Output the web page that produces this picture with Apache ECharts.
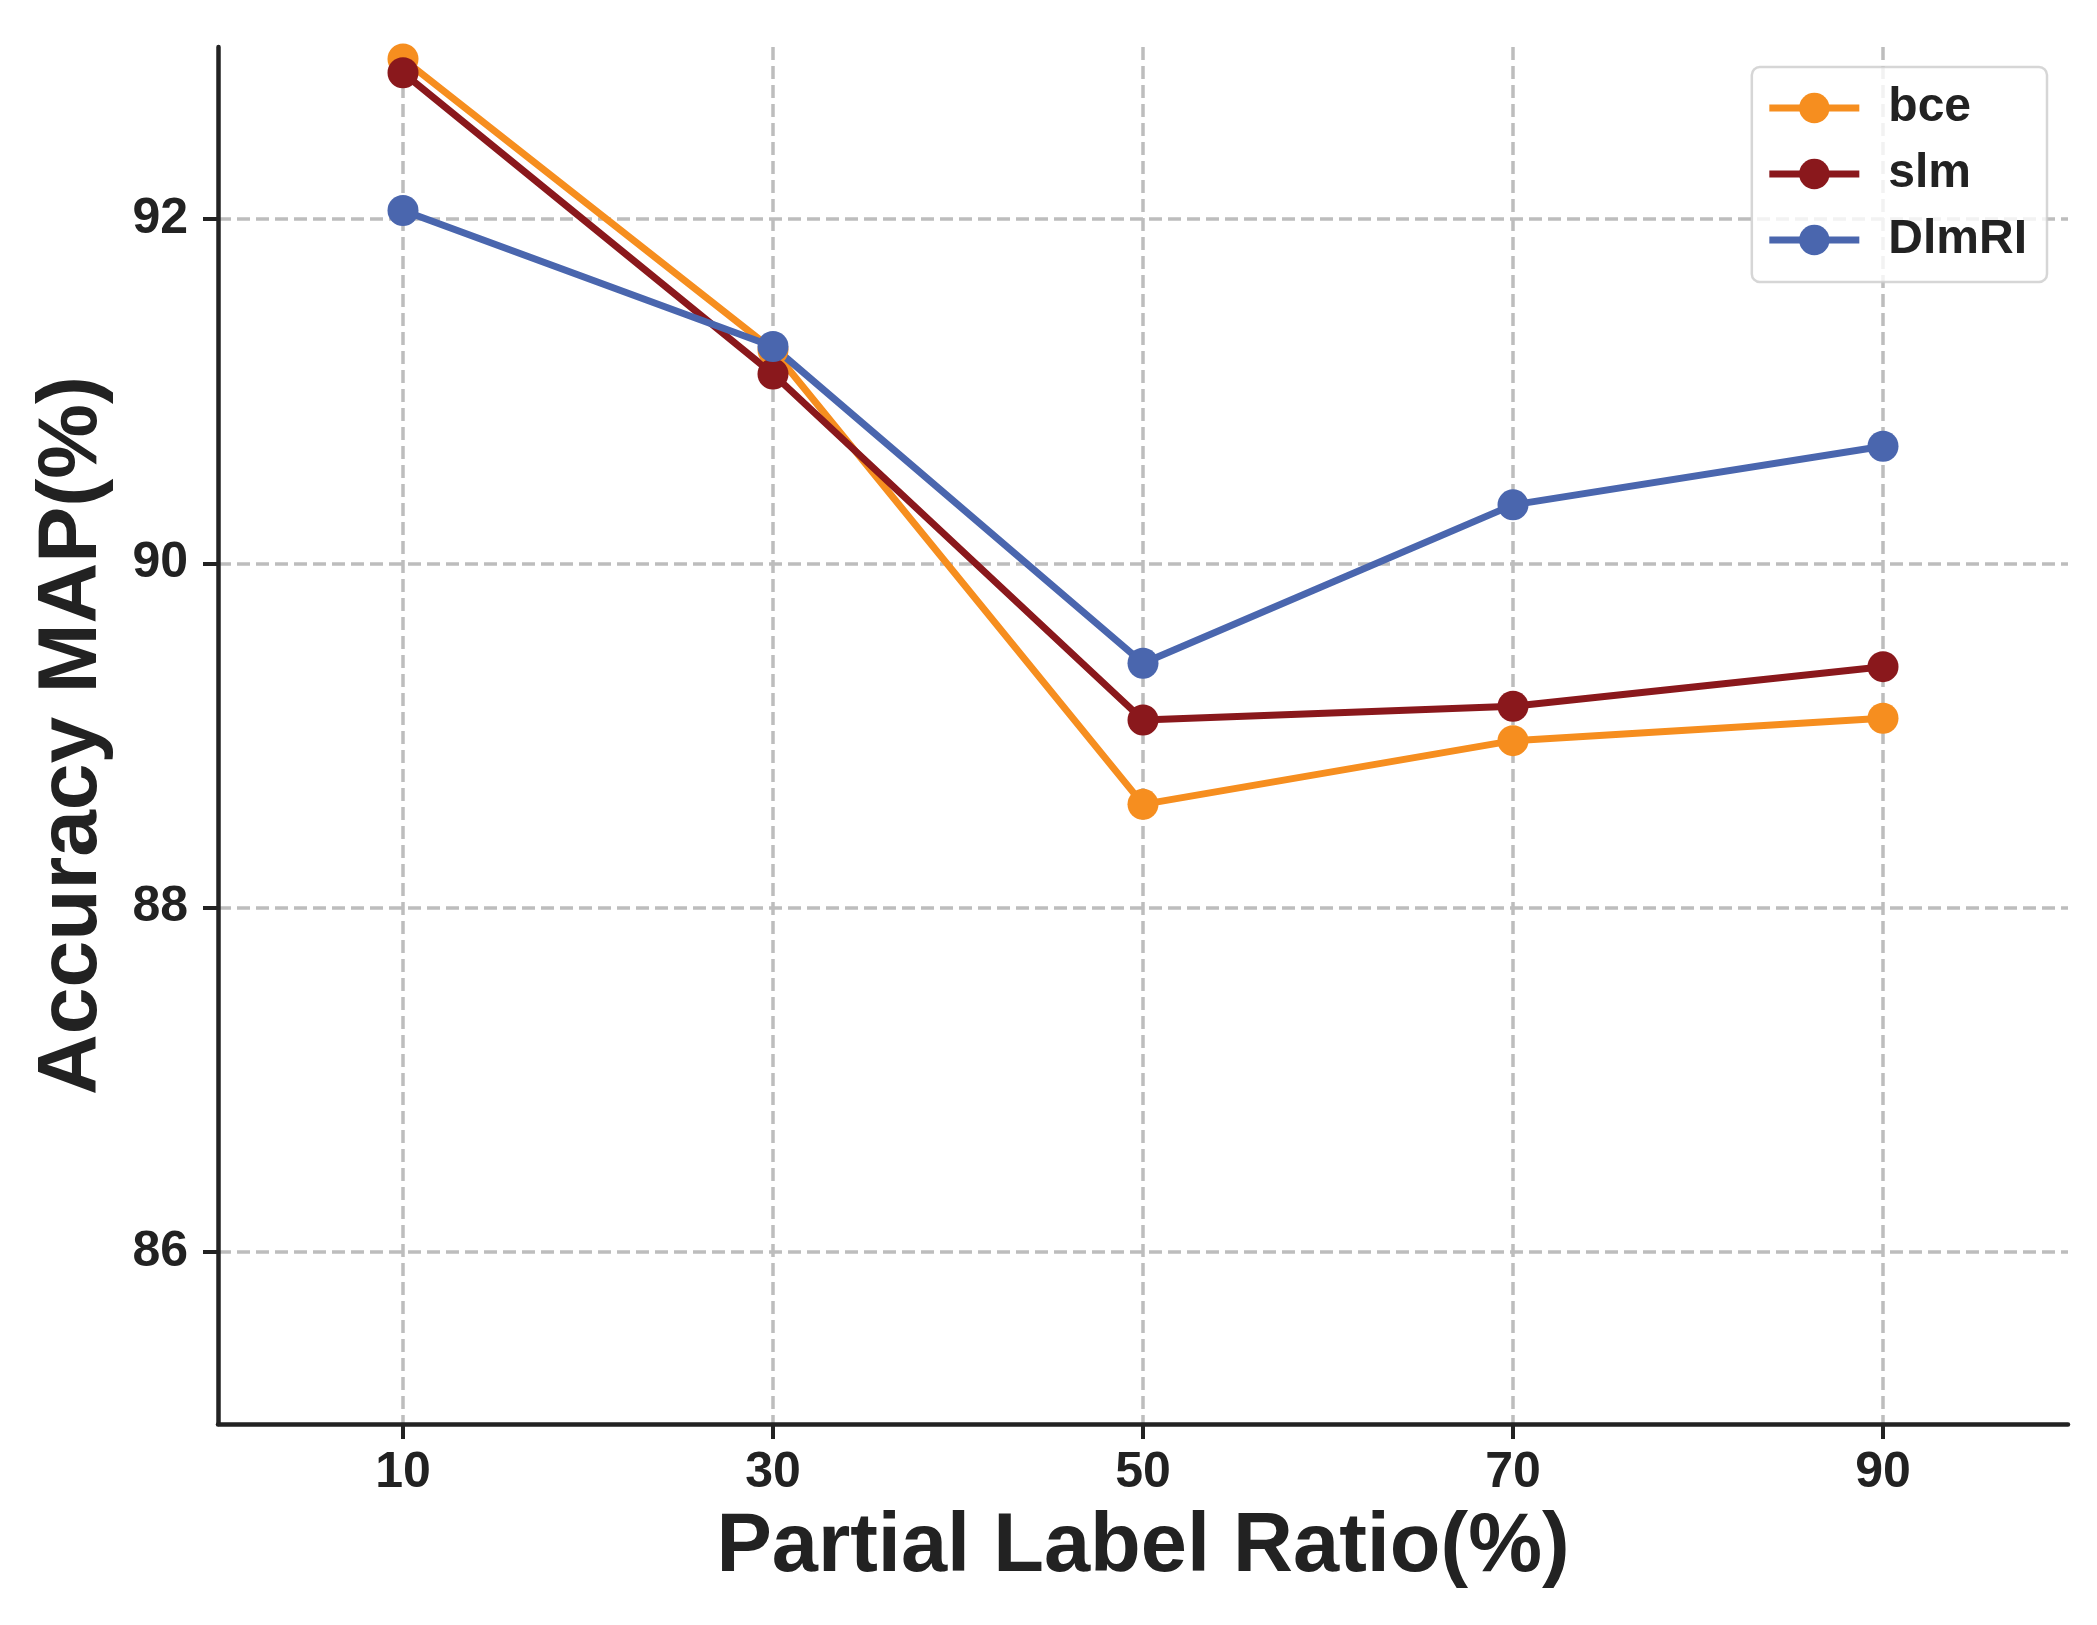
<!DOCTYPE html>
<html>
<head>
<meta charset="utf-8">
<script src="https://cdn.jsdelivr.net/npm/echarts@6/dist/echarts.min.js"></script>
<style>
  html, body { margin: 0; padding: 0; background: #fff; }
  #main { width: 2097px; height: 1625px; }
</style>
</head>
<body>
<div id="main"></div>
<script>
// partial label ratio (%) on x
var ratios = [10, 30, 50, 70, 90];
// accuracy mAP (%) per method
var bce   = [92.93, 91.24, 88.60, 88.97, 89.10];
var slm   = [92.85, 91.10, 89.09, 89.17, 89.40];
var dlmri = [92.05, 91.26, 89.42, 90.34, 90.68];
var yTicks = [86, 88, 90, 92];

var FONT = "'Liberation Sans', Arial, Helvetica, sans-serif";
var INK = '#222222';

function pairs(vals) {
  return ratios.map(function (r, i) { return [r, vals[i]]; });
}

function makeSeries(name, vals, color) {
  return {
    name: name,
    type: 'line',
    data: pairs(vals),
    symbol: 'circle',
    symbolSize: 31,
    lineStyle: { width: 7, color: color },
    itemStyle: { color: color },
    emphasis: { disabled: true }
  };
}

var myChart = echarts.init(document.getElementById('main'));
myChart.setOption({
  animation: false,
  backgroundColor: '#fff',
  grid: { left: 218, top: 47, width: 1850, height: 1377, containLabel: false },
  legend: {
    right: 50,
    top: 67,
    orient: 'vertical',
    padding: [17, 20, 18, 14],
    itemWidth: 90,
    itemHeight: 38,
    itemGap: 18,
    backgroundColor: 'rgba(255,255,255,0.8)',
    borderColor: 'rgba(204,204,204,0.8)',
    borderWidth: 2.5,
    borderRadius: 8,
    lineStyle: { width: 7 },
    textStyle: { fontFamily: FONT, fontWeight: 'bold', fontSize: 48, color: INK, padding: [0, 0, 0, 24] },
    data: ['bce', 'slm', 'DlmRI']
  },
  xAxis: {
    type: 'value',
    min: 0,
    max: 100,
    name: 'Partial Label Ratio(%)',
    nameLocation: 'middle',
    nameGap: 83,
    nameTextStyle: { fontFamily: FONT, fontWeight: 'bold', fontSize: 83, color: INK },
    axisLine: { show: true, lineStyle: { color: INK, width: 4.5 } },
    axisTick: { show: true, length: 15, lineStyle: { color: INK, width: 4 }, customValues: ratios },
    axisLabel: { margin: 24, fontFamily: FONT, fontWeight: 'bold', fontSize: 50, color: INK, customValues: ratios },
    splitLine: { show: true, lineStyle: { color: '#bdbdbd', width: 3.5, type: [13, 6] } }
  },
  yAxis: {
    type: 'value',
    min: 85,
    max: 93,
    name: 'Accuracy MAP(%)',
    nameLocation: 'middle',
    nameGap: 103,
    nameTextStyle: { fontFamily: FONT, fontWeight: 'bold', fontSize: 84, color: INK },
    axisLine: { show: true, lineStyle: { color: INK, width: 4.5 } },
    axisTick: { show: true, length: 15, lineStyle: { color: INK, width: 4 }, customValues: yTicks },
    axisLabel: { margin: 30, fontFamily: FONT, fontWeight: 'bold', fontSize: 50, color: INK, customValues: yTicks },
    splitLine: { show: true, lineStyle: { color: '#bdbdbd', width: 3.5, type: [13, 6] } }
  },
  series: [
    makeSeries('bce', bce, '#F68E1F'),
    makeSeries('slm', slm, '#8A181C'),
    makeSeries('DlmRI', dlmri, '#4A66AE')
  ]
});
</script>
</body>
</html>
